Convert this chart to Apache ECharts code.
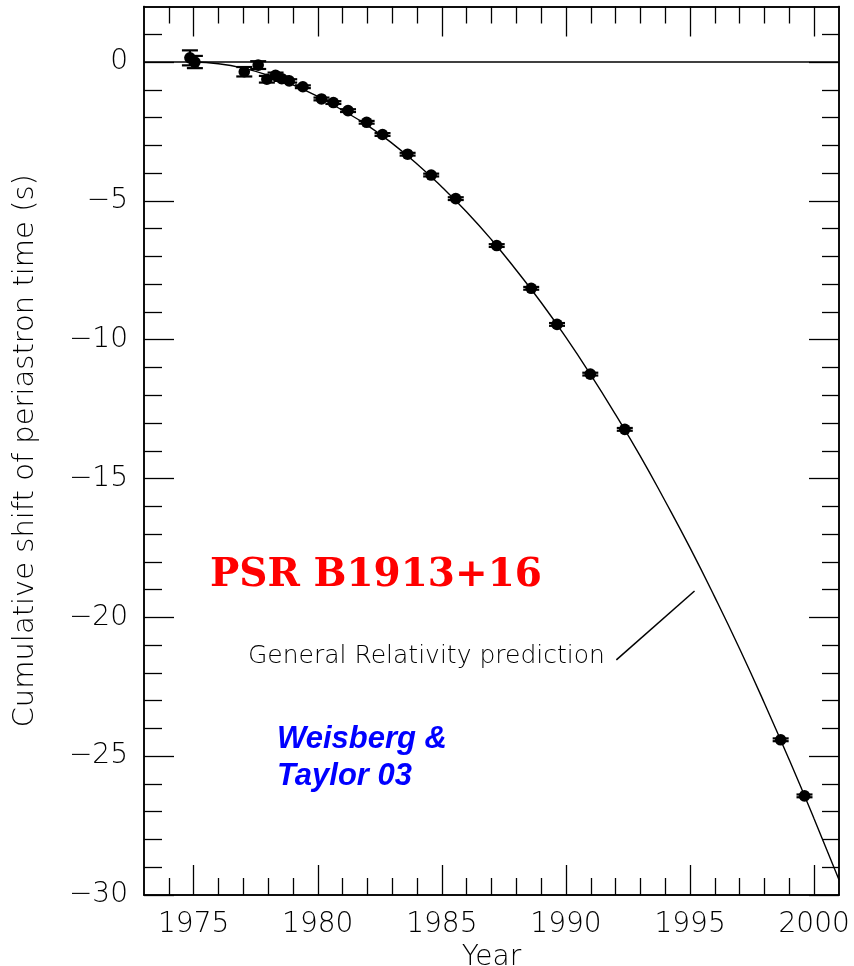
<!DOCTYPE html>
<html>
<head>
<meta charset="utf-8">
<script src="https://cdn.jsdelivr.net/npm/echarts@6/dist/echarts.min.js"></script>
<style>
  html, body { margin: 0; padding: 0; background: #fff; }
  #chart { width: 854px; height: 966px; }
</style>
</head>
<body>
<div id="chart"></div>
<script>
// Measured periastron-time shifts (year, shift in s, 1-sigma error)
const obsYears = [1974.85, 1975.05, 1977.04, 1977.6, 1977.95, 1978.3, 1978.55, 1978.85, 1979.4,
  1980.15, 1980.63, 1981.22, 1981.97, 1982.61, 1983.62, 1984.57, 1985.56, 1987.21, 1988.6,
  1989.64, 1990.98, 1992.37, 1998.65, 1999.61];
const obsShift = [0.15, 0.0, -0.35, -0.11, -0.62, -0.48, -0.6, -0.68, -0.89,
  -1.33, -1.46, -1.75, -2.17, -2.61, -3.32, -4.07, -4.92, -6.61, -8.15,
  -9.45, -11.24, -13.23, -24.41, -26.43];
const obsErr = [0.27, 0.22, 0.17, 0.14, 0.12, 0.1, 0.08, 0.06, 0.05,
  0.05, 0.05, 0.05, 0.05, 0.05, 0.05, 0.05, 0.05, 0.05, 0.05,
  0.05, 0.05, 0.05, 0.05, 0.05];

// General Relativity prediction curve
const grYears = [1975, 1976, 1977, 1978, 1979, 1980, 1981, 1982, 1983, 1984, 1985, 1986, 1987,
  1988, 1989, 1990, 1991, 1992, 1993, 1994, 1995, 1996, 1997, 1998, 1999, 2000, 2001];
const grShift = [0, -0.06, -0.22, -0.48, -0.82, -1.24, -1.74, -2.28, -2.93, -3.67, -4.5, -5.4, -6.4,
  -7.5, -8.66, -9.92, -11.27, -12.7, -14.2, -15.82, -17.5, -19.28, -21.14, -23.1, -25.14, -27.26, -29.45];

// Axis ticks
const xMajorTicks = [1975, 1980, 1985, 1990, 1995, 2000];
const xMinorTicks = [1974, 1976, 1977, 1978, 1979, 1981, 1982, 1983, 1984, 1986, 1987, 1988, 1989,
  1991, 1992, 1993, 1994, 1996, 1997, 1998, 1999];
const yMajorTicks = [-30, -25, -20, -15, -10, -5, 0];
const yMinorTicks = [-29, -28, -27, -26, -24, -23, -22, -21, -19, -18, -17, -16, -14, -13, -12, -11,
  -9, -8, -7, -6, -4, -3, -2, -1, 1];

// Leader from the curve label to the curve (year, shift)
const leaderYears = [1992.03, 1995.18];
const leaderShift = [-21.53, -19.05];

const X_MIN = 1973, X_MAX = 2001, Y_MIN = -30, Y_MAX = 2;
const thinFont = 'DejaVu Sans';

function xAxisDef(position, ticks, len, showLabels) {
  return {
    type: 'value', position: position, min: X_MIN, max: X_MAX,
    axisLine: { show: true, onZero: false, lineStyle: { color: '#000', width: 1.5 } },
    axisTick: { show: true, inside: true, length: len, customValues: ticks,
      lineStyle: { color: '#000', width: 1.3 } },
    axisLabel: showLabels ? { show: true, customValues: ticks, margin: 16,
      fontFamily: thinFont, fontWeight: 200, fontSize: 28, color: '#000',
      formatter: v => String(v) } : { show: false },
    splitLine: { show: false },
    name: showLabels ? 'Year' : '',
    nameLocation: 'middle', nameGap: 40,
    nameTextStyle: { fontFamily: thinFont, fontWeight: 200, fontSize: 28, color: '#000' }
  };
}
function yAxisDef(position, ticks, len, showLabels) {
  return {
    type: 'value', position: position, min: Y_MIN, max: Y_MAX,
    axisLine: { show: true, onZero: false, lineStyle: { color: '#000', width: 1.5 } },
    axisTick: { show: true, inside: true, length: len, customValues: ticks,
      lineStyle: { color: '#000', width: 1.3 } },
    axisLabel: showLabels ? { show: true, customValues: ticks, margin: 16,
      fontFamily: thinFont, fontWeight: 200, fontSize: 28, color: '#000',
      formatter: v => (v < 0 ? '\u2212' + Math.abs(v) : String(v)) } : { show: false },
    splitLine: { show: false },
    name: showLabels ? 'Cumulative shift of periastron time (s)' : '',
    nameLocation: 'middle', nameGap: 104, nameRotate: 90,
    nameTextStyle: { fontFamily: thinFont, fontWeight: 200, fontSize: 29, color: '#000' }
  };
}

const obsData = obsYears.map((y, i) => [y, obsShift[i], obsErr[i]]);
const grData = grYears.map((y, i) => [y, grShift[i]]);

const chart = echarts.init(document.getElementById('chart'), null, { renderer: 'canvas' });
chart.setOption({
  backgroundColor: '#fff',
  animation: false,
  grid: { left: 144, right: 15, top: 6.5, bottom: 71, containLabel: false, outerBoundsMode: 'none' },
  xAxis: [
    xAxisDef('bottom', xMajorTicks, 30, true),
    xAxisDef('bottom', xMinorTicks, 17, false),
    xAxisDef('top', xMajorTicks, 30, false),
    xAxisDef('top', xMinorTicks, 17, false)
  ],
  yAxis: [
    yAxisDef('left', yMajorTicks, 30, true),
    yAxisDef('left', yMinorTicks, 18, false),
    yAxisDef('right', yMajorTicks, 30, false),
    yAxisDef('right', yMinorTicks, 17, false)
  ],
  series: [
    {
      name: 'GR prediction', type: 'line', data: grData, smooth: true,
      showSymbol: false, symbol: 'none',
      lineStyle: { color: '#000', width: 1.4 },
      markLine: {
        silent: true, symbol: 'none', label: { show: false },
        lineStyle: { color: '#000', width: 1.5, type: 'solid' },
        data: [
          { yAxis: 0 },
          [ { coord: [leaderYears[0], leaderShift[0]] }, { coord: [leaderYears[1], leaderShift[1]] } ]
        ]
      },
      z: 2
    },
    {
      name: 'Timing data', type: 'custom', data: obsData, z: 3,
      renderItem: function (params, api) {
        const x = api.value(0), y = api.value(1), e = api.value(2);
        const c = api.coord([x, y]);
        const hi = api.coord([x, y + e]);
        const lo = api.coord([x, y - e]);
        const cap = 8;
        const st = { stroke: '#000', lineWidth: 2.2 };
        return {
          type: 'group',
          children: [
            { type: 'line', shape: { x1: c[0], y1: hi[1], x2: c[0], y2: lo[1] }, style: st },
            { type: 'line', shape: { x1: c[0] - cap, y1: hi[1], x2: c[0] + cap, y2: hi[1] }, style: st },
            { type: 'line', shape: { x1: c[0] - cap, y1: lo[1], x2: c[0] + cap, y2: lo[1] }, style: st },
            { type: 'circle', shape: { cx: c[0], cy: c[1], r: 5.8 }, style: { fill: '#000' } }
          ]
        };
      }
    }
  ],
  graphic: [
    { type: 'text', left: 210, top: 556,
      style: { text: 'PSR B1913+16', fill: '#ff0000', font: 'bold 39px "DejaVu Serif"' } },
    { type: 'text', left: 248, top: 644,
      style: { text: 'General Relativity prediction', fill: '#000', font: '200 25px "DejaVu Sans"' } },
    { type: 'text', left: 277, top: 721,
      style: { text: 'Weisberg &\nTaylor 03', fill: '#0000ff', lineHeight: 37,
        font: 'italic bold 31px "Liberation Sans"' } }
  ]
});
</script>
</body>
</html>
